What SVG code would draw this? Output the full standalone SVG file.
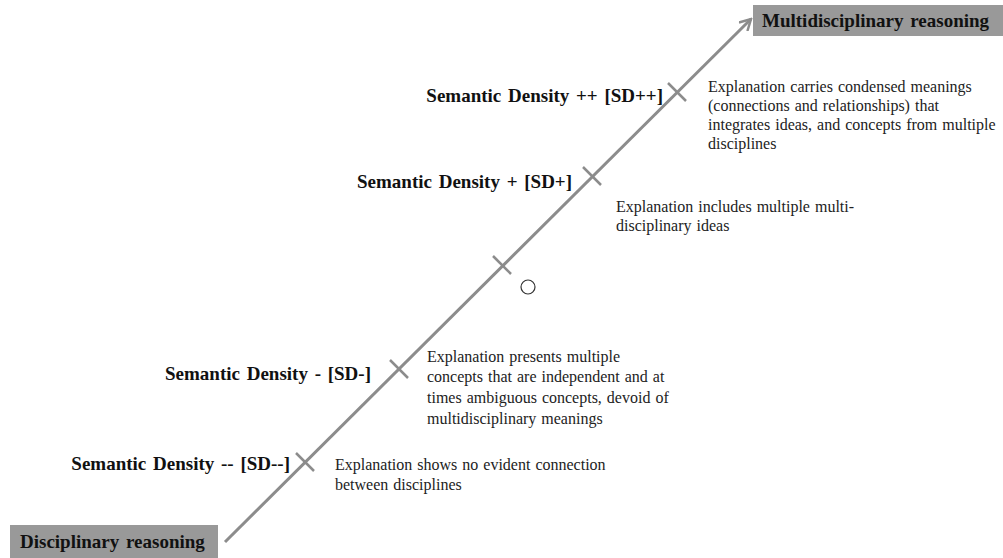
<svg xmlns="http://www.w3.org/2000/svg" width="1003" height="558" viewBox="0 0 1003 558">
<defs>
<style>
.lbl{font-family:"Liberation Serif","Times New Roman",serif;font-weight:bold;font-size:19px;word-spacing:2px;fill:#111}
.box{fill:#999}
.desc{font-family:"Liberation Serif","Times New Roman",serif;font-size:16px;word-spacing:1px;fill:#222}
.tick{stroke:#8c8c8c;stroke-width:2.5}
.axis{stroke:#8c8c8c;stroke-width:3;fill:none}
</style>
<marker id="arr" markerWidth="14" markerHeight="14" refX="12" refY="7" orient="auto" markerUnits="userSpaceOnUse">
<path d="M1,1 L12,7 L1,13" fill="none" stroke="#8c8c8c" stroke-width="2.5"/>
</marker>
</defs>
<rect width="1003" height="558" fill="#fff"/>
<g id="connectors">
<line class="axis" x1="225" y1="542" x2="751" y2="19" marker-end="url(#arr)"/>
</g>
<g id="start">
<rect class="box" x="10" y="525" width="208" height="33"/>
<text class="lbl" x="20" y="548">Disciplinary reasoning</text>
</g>
<g id="end">
<rect class="box" x="753" y="5" width="250" height="31"/>
<text class="lbl" x="762" y="27">Multidisciplinary reasoning</text>
</g>
<g id="sdpp">
<line class="tick" x1="668" y1="83" x2="686" y2="101"/>
<text class="lbl" x="663" y="102" text-anchor="end">Semantic Density ++ [SD++]</text>
<text class="desc" x="708" y="92">Explanation carries condensed meanings</text>
<text class="desc" x="708" y="111">(connections and relationships) that</text>
<text class="desc" x="708" y="130">integrates ideas, and concepts from multiple</text>
<text class="desc" x="708" y="149">disciplines</text>
</g>
<g id="sdp">
<line class="tick" x1="583" y1="167" x2="601" y2="185"/>
<text class="lbl" x="572" y="188" text-anchor="end">Semantic Density + [SD+]</text>
<text class="desc" x="616" y="212">Explanation includes multiple multi-</text>
<text class="desc" x="616" y="231">disciplinary ideas</text>
</g>
<g id="sd0">
<line class="tick" x1="493" y1="256" x2="511" y2="274"/>
<circle cx="528" cy="287" r="7" fill="none" stroke="#333" stroke-width="1.2"/>
</g>
<g id="sdm">
<line class="tick" x1="390" y1="360" x2="408" y2="378"/>
<text class="lbl" x="371" y="380" text-anchor="end">Semantic Density - [SD-]</text>
<text class="desc" x="427" y="362">Explanation presents multiple</text>
<text class="desc" x="427" y="382">concepts that are independent and at</text>
<text class="desc" x="427" y="403">times ambiguous concepts, devoid of</text>
<text class="desc" x="427" y="424">multidisciplinary meanings</text>
</g>
<g id="sdmm">
<line class="tick" x1="296" y1="453" x2="314" y2="471"/>
<text class="lbl" x="290" y="470" text-anchor="end">Semantic Density -- [SD--]</text>
<text class="desc" x="335" y="470">Explanation shows no evident connection</text>
<text class="desc" x="335" y="490">between disciplines</text>
</g>
</svg>
